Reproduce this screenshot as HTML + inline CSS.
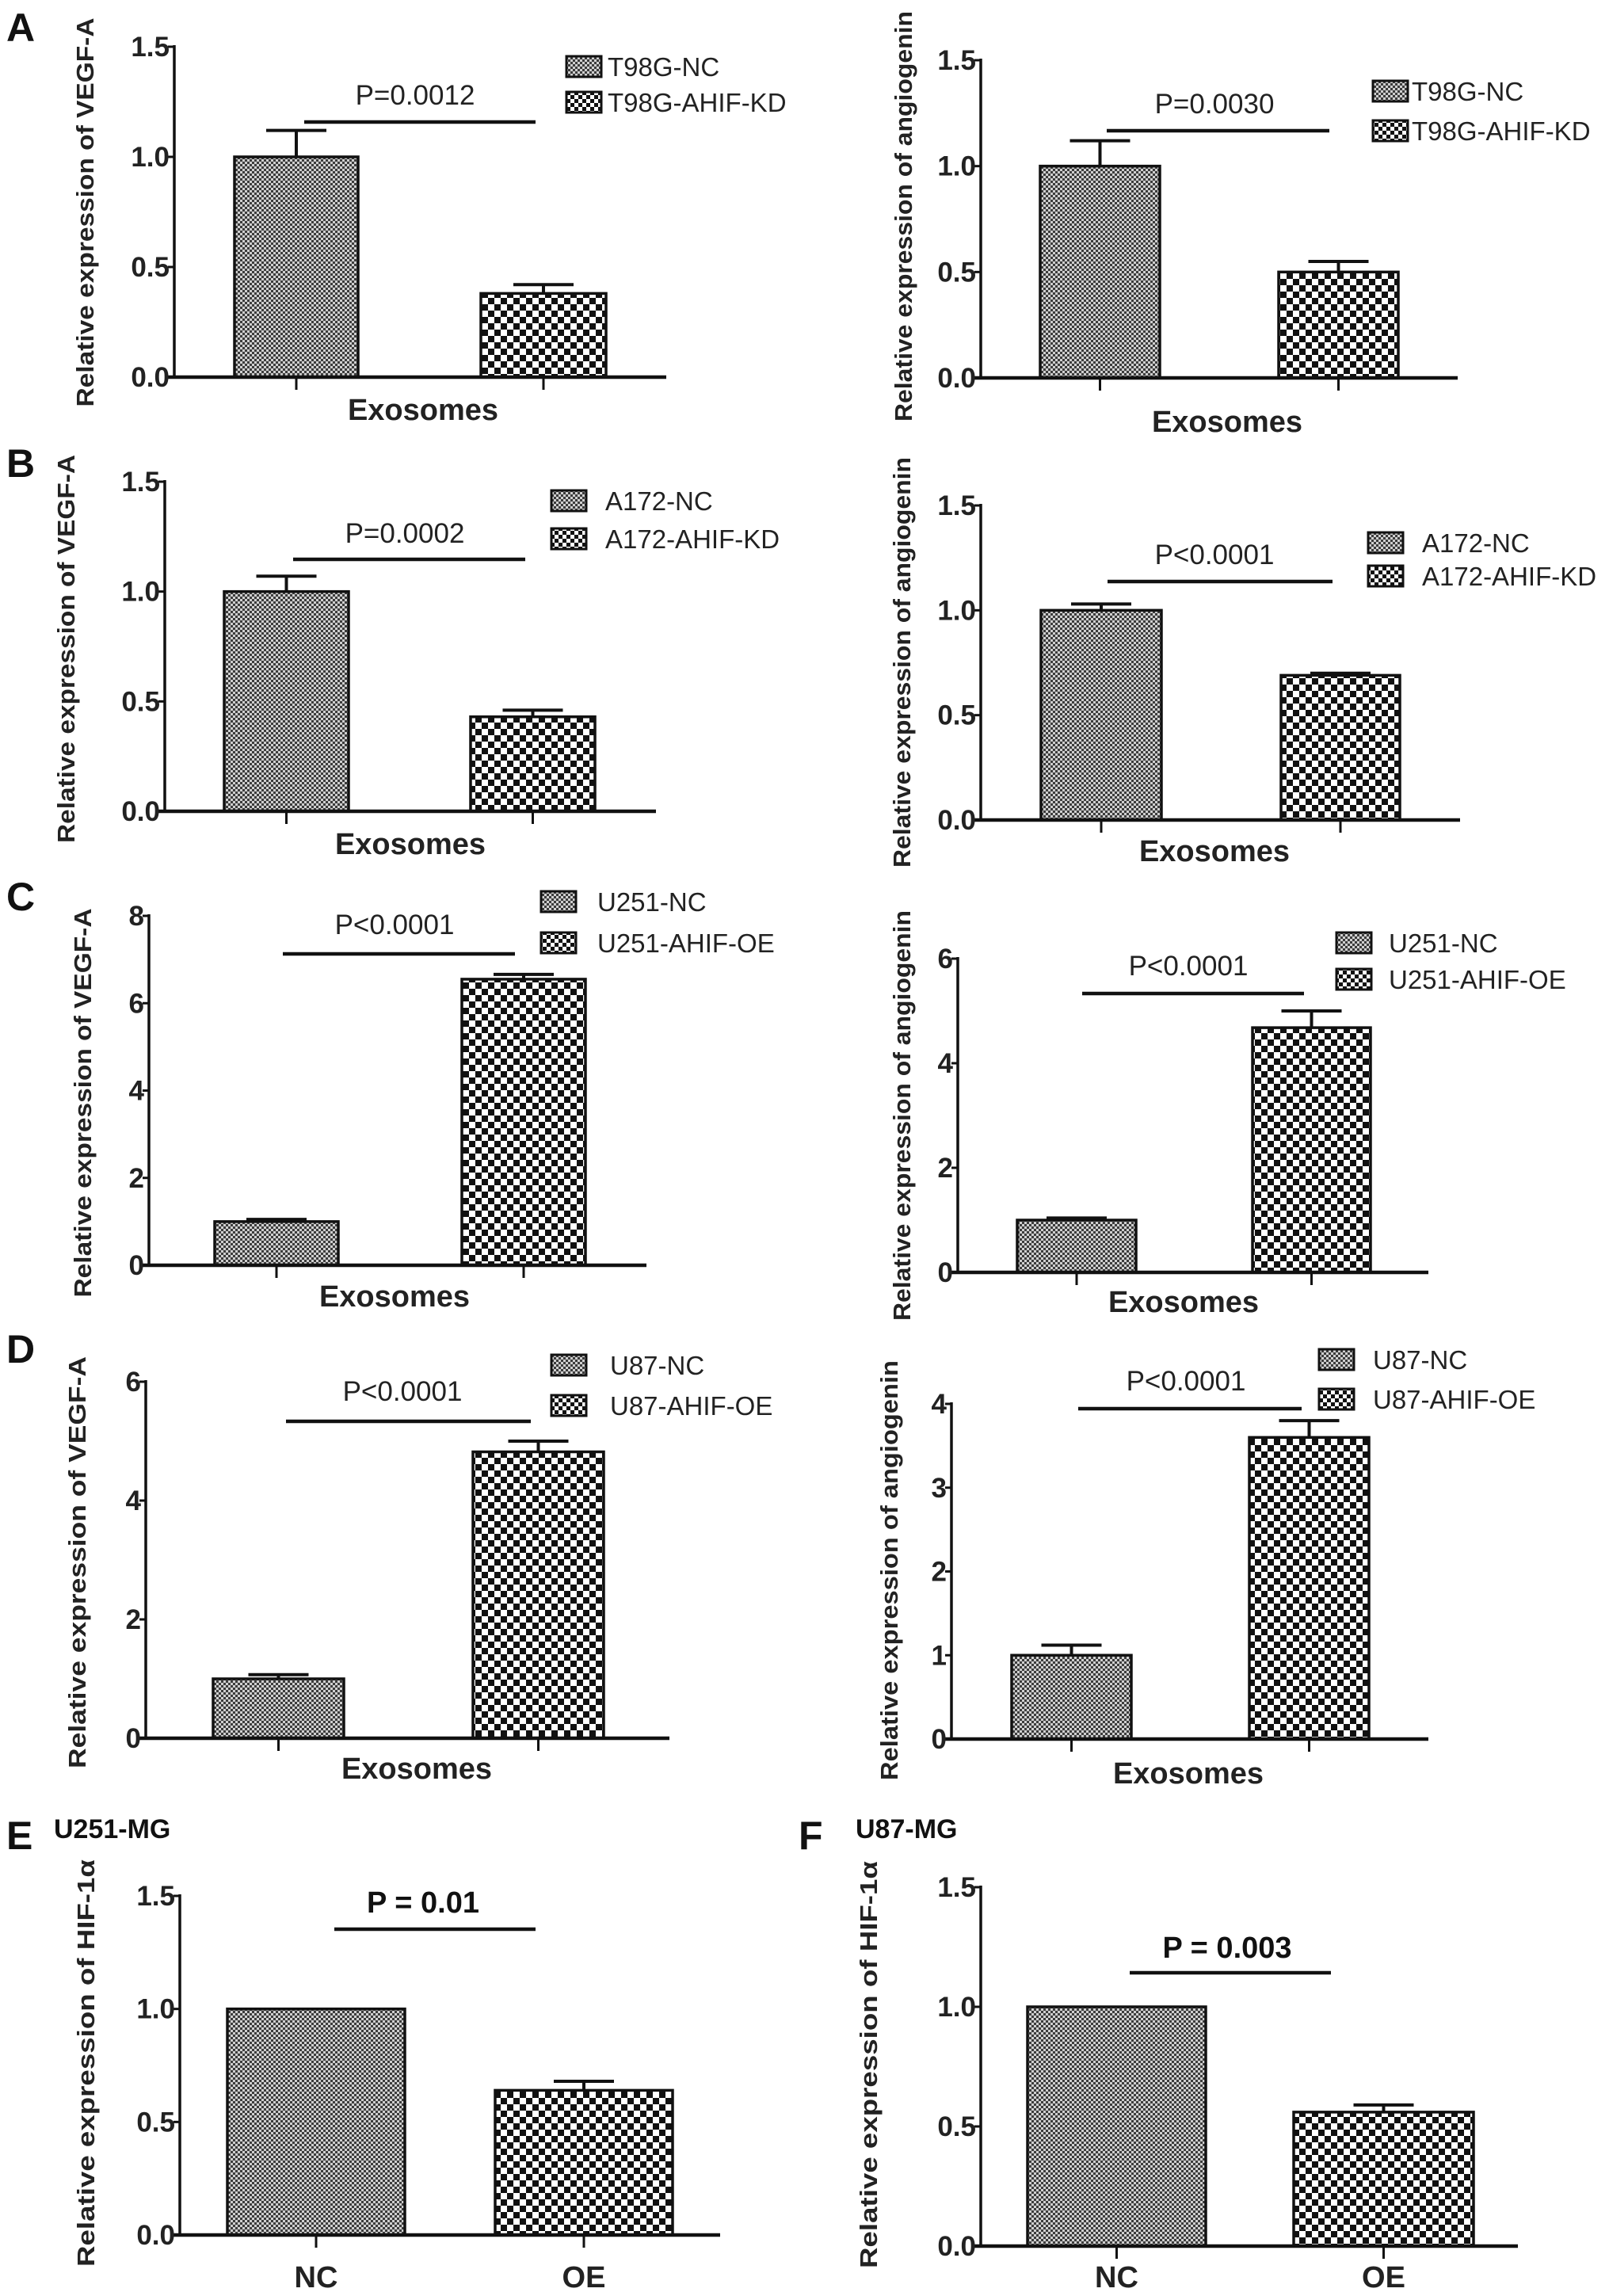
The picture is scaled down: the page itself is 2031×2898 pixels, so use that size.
<!DOCTYPE html>
<html><head><meta charset="utf-8"><title>Exosome expression bar charts</title>
<style>
html,body{margin:0;padding:0;background:#fff;}
svg{display:block;}
.tick{font-family:"Liberation Sans Narrow","Liberation Sans",sans-serif;font-weight:bold;font-size:35px;fill:#222;}
.leg{font-family:"Liberation Sans Narrow","Liberation Sans",sans-serif;font-size:33px;fill:#222;}
.pval{font-family:"Liberation Sans Narrow","Liberation Sans",sans-serif;font-size:35px;fill:#222;}
.pbold{font-family:"Liberation Sans Narrow","Liberation Sans",sans-serif;font-weight:bold;font-size:38px;fill:#111;}
.xl{font-family:"Liberation Sans Narrow","Liberation Sans",sans-serif;font-weight:bold;font-size:38px;fill:#222;}
.yt{font-family:"Liberation Sans",sans-serif;font-weight:bold;font-size:31px;fill:#222;}
.letter{font-family:"Liberation Sans",sans-serif;font-weight:bold;font-size:50px;fill:#111;}
.sub{font-family:"Liberation Sans Narrow","Liberation Sans",sans-serif;font-weight:bold;font-size:34px;fill:#111;}
</style></head>
<body>
<svg id="fig" xmlns="http://www.w3.org/2000/svg" width="2031" height="2898" viewBox="0 0 2031 2898">
<defs>
<pattern id="fine" patternUnits="userSpaceOnUse" width="6" height="6">
<rect width="6" height="6" fill="#cfcfcf"/><rect width="3" height="3" fill="#3c3c3c"/><rect x="3" y="3" width="3" height="3" fill="#3c3c3c"/>
</pattern>
<pattern id="coarse" patternUnits="userSpaceOnUse" width="16" height="16">
<rect width="16" height="16" fill="#fff"/><rect width="8" height="8" fill="#111"/><rect x="8" y="8" width="8" height="8" fill="#111"/>
</pattern>
<pattern id="coarseS" patternUnits="userSpaceOnUse" width="10" height="10">
<rect width="10" height="10" fill="#fff"/><rect width="5" height="5" fill="#111"/><rect x="5" y="5" width="5" height="5" fill="#111"/>
</pattern>
</defs>
<text class="letter" x="8" y="52">A</text>
<text class="letter" x="8" y="602">B</text>
<text class="letter" x="8" y="1149">C</text>
<text class="letter" x="8" y="1720">D</text>
<text class="letter" x="8" y="2334">E</text>
<text class="sub" x="68" y="2320">U251-MG</text>
<text class="letter" x="1008" y="2334">F</text>
<text class="sub" x="1080" y="2320">U87-MG</text>
</svg>
<script>
// ---- data ----
const aLeftCategories = ['T98G-NC', 'T98G-AHIF-KD'];
const aLeftValues = [1.0, 0.38];
const aLeftErrTops = [1.12, 0.42];
const aLeftTicks = [0, 0.5, 1.0, 1.5];
const aLeftTickLabels = ['0.0', '0.5', '1.0', '1.5'];

const aRightCategories = ['T98G-NC', 'T98G-AHIF-KD'];
const aRightValues = [1.0, 0.50];
const aRightErrTops = [1.12, 0.55];
const aRightTicks = [0, 0.5, 1.0, 1.5];
const aRightTickLabels = ['0.0', '0.5', '1.0', '1.5'];

const bLeftCategories = ['A172-NC', 'A172-AHIF-KD'];
const bLeftValues = [1.0, 0.43];
const bLeftErrTops = [1.07, 0.46];
const bLeftTicks = [0, 0.5, 1.0, 1.5];
const bLeftTickLabels = ['0.0', '0.5', '1.0', '1.5'];

const bRightCategories = ['A172-NC', 'A172-AHIF-KD'];
const bRightValues = [1.0, 0.69];
const bRightErrTops = [1.03, 0.70];
const bRightTicks = [0, 0.5, 1.0, 1.5];
const bRightTickLabels = ['0.0', '0.5', '1.0', '1.5'];

const cLeftCategories = ['U251-NC', 'U251-AHIF-OE'];
const cLeftValues = [1.0, 6.55];
const cLeftErrTops = [1.05, 6.66];
const cLeftTicks = [0, 2, 4, 6, 8];
const cLeftTickLabels = ['0', '2', '4', '6', '8'];

const cRightCategories = ['U251-NC', 'U251-AHIF-OE'];
const cRightValues = [1.0, 4.68];
const cRightErrTops = [1.04, 5.0];
const cRightTicks = [0, 2, 4, 6];
const cRightTickLabels = ['0', '2', '4', '6'];

const dLeftCategories = ['U87-NC', 'U87-AHIF-OE'];
const dLeftValues = [1.0, 4.82];
const dLeftErrTops = [1.07, 5.0];
const dLeftTicks = [0, 2, 4, 6];
const dLeftTickLabels = ['0', '2', '4', '6'];

const dRightCategories = ['U87-NC', 'U87-AHIF-OE'];
const dRightValues = [1.0, 3.6];
const dRightErrTops = [1.12, 3.8];
const dRightTicks = [0, 1, 2, 3, 4];
const dRightTickLabels = ['0', '1', '2', '3', '4'];

const eCategories = ['NC', 'OE'];
const eValues = [1.0, 0.64];
const eErrTops = [1.0, 0.68];
const eTicks = [0, 0.5, 1.0, 1.5];
const eTickLabels = ['0.0', '0.5', '1.0', '1.5'];

const fCategories = ['NC', 'OE'];
const fValues = [1.0, 0.56];
const fErrTops = [1.0, 0.59];
const fTicks = [0, 0.5, 1.0, 1.5];
const fTickLabels = ['0.0', '0.5', '1.0', '1.5'];

const pLabels = ['P=0.0012', 'P=0.0030', 'P=0.0002', 'P<0.0001', 'P<0.0001', 'P<0.0001', 'P<0.0001', 'P<0.0001', 'P = 0.01', 'P = 0.003'];

// ---- layout ----
const VEGF = 'Relative expression of VEGF-A';
const ANG = 'Relative expression of angiogenin';
const HIF = 'Relative expression of  HIF-1\u03b1';
const panels = [
 {id:'a-left', cats:aLeftCategories, vals:aLeftValues, errs:aLeftErrTops, ticks:aLeftTicks, tl:aLeftTickLabels, p:pLabels[0],
  ax:220, yTop:59, yZero:476, bars:[[296,452],[607,765]], xEnd:841, sig:[154,384,676], pt:[524,132], leg:[715,71,116,767], xl:[534,530], yt:[107,268,491,VEGF]},
 {id:'a-right', cats:aRightCategories, vals:aRightValues, errs:aRightErrTops, ticks:aRightTicks, tl:aRightTickLabels, p:pLabels[1],
  ax:1238, yTop:76, yZero:477, bars:[[1313,1464],[1614,1765]], xEnd:1840, sig:[165,1397,1678], pt:[1533,143], leg:[1733,102,152,1782], xl:[1549,545], yt:[1140,273,518,ANG]},
 {id:'b-left', cats:bLeftCategories, vals:bLeftValues, errs:bLeftErrTops, ticks:bLeftTicks, tl:bLeftTickLabels, p:pLabels[2],
  ax:208, yTop:608, yZero:1024, bars:[[283,440],[594,751]], xEnd:828, sig:[706,370,663], pt:[511,685], leg:[696,619,667,764], xl:[518,1078], yt:[83,819,490,VEGF]},
 {id:'b-right', cats:bRightCategories, vals:bRightValues, errs:bRightErrTops, ticks:bRightTicks, tl:bRightTickLabels, p:pLabels[3],
  ax:1238, yTop:638, yZero:1035, bars:[[1314,1466],[1617,1767]], xEnd:1843, sig:[734,1398,1682], pt:[1533,712], leg:[1727,672,714,1795], xl:[1533,1087], yt:[1138,836,518,ANG]},
 {id:'c-left', cats:cLeftCategories, vals:cLeftValues, errs:cLeftErrTops, ticks:cLeftTicks, tl:cLeftTickLabels, p:pLabels[4],
  ax:188, yTop:1156, yZero:1597, bars:[[271,427],[583,739]], xEnd:816, sig:[1204,357,650], pt:[498,1179], leg:[683,1125,1177,754], xl:[498,1649], yt:[104,1392,491,VEGF]},
 {id:'c-right', cats:cRightCategories, vals:cRightValues, errs:cRightErrTops, ticks:cRightTicks, tl:cRightTickLabels, p:pLabels[5],
  ax:1209, yTop:1210, yZero:1606, bars:[[1284,1434],[1581,1730]], xEnd:1803, sig:[1254,1366,1646], pt:[1500,1231], leg:[1687,1177,1223,1753], xl:[1494,1656], yt:[1138,1408,518,ANG]},
 {id:'d-left', cats:dLeftCategories, vals:dLeftValues, errs:dLeftErrTops, ticks:dLeftTicks, tl:dLeftTickLabels, p:pLabels[6],
  ax:184, yTop:1744, yZero:2194, bars:[[269,434],[597,762]], xEnd:845, sig:[1794,361,670], pt:[508,1768], leg:[696,1710,1761,770], xl:[526,2245], yt:[97,1972,520,VEGF]},
 {id:'d-right', cats:dRightCategories, vals:dRightValues, errs:dRightErrTops, ticks:dRightTicks, tl:dRightTickLabels, p:pLabels[7],
  ax:1201, yTop:1772, yZero:2195, bars:[[1277,1428],[1577,1728]], xEnd:1803, sig:[1778,1361,1643], pt:[1497,1755], leg:[1665,1703,1753,1733], xl:[1500,2251], yt:[1122,1982,530,ANG]},
 {id:'e', cats:eCategories, vals:eValues, errs:eErrTops, ticks:eTicks, tl:eTickLabels, p:pLabels[8], bold:true,
  ax:227, yTop:2393, yZero:2821, bars:[[287,511],[625,849]], xEnd:909, sig:[2435,422,676], pt:[534,2414], leg:null, xl:[0,2887], yt:[108,2604,514,HIF]},
 {id:'f', cats:fCategories, vals:fValues, errs:fErrTops, ticks:fTicks, tl:fTickLabels, p:pLabels[9], bold:true,
  ax:1238, yTop:2382, yZero:2835, bars:[[1297,1522],[1633,1860]], xEnd:1916, sig:[2490,1426,1680], pt:[1549,2471], leg:null, xl:[0,2887], yt:[1096,2606,514,HIF]}
];

const NS = 'http://www.w3.org/2000/svg';
const svg = document.getElementById('fig');
function mk(tag, attrs, parent) {
  const el = document.createElementNS(NS, tag);
  for (const k in attrs) el.setAttribute(k, attrs[k]);
  (parent || svg).appendChild(el);
  return el;
}

panels.forEach(function (P) {
  const g = mk('g', {});
  
  
  const yMax = P.ticks[P.ticks.length - 1];
  const yScale = function (v) { return P.yZero - v / yMax * (P.yZero - P.yTop); };
  const fills = ['url(#fine)', 'url(#coarse)'];

  P.vals.forEach(function (v, i) {
    const x0 = P.bars[i][0], x1 = P.bars[i][1];
    const bar = mk('rect', {x: x0, y: yScale(v), width: x1 - x0, height: P.yZero - yScale(v), fill: fills[i], stroke: '#111', 'stroke-width': 3.5}, g);
    
    
    const cx = (x0 + x1) / 2;
    const et = yScale(P.errs[i]);
    if (P.errs[i] > v) {
      const eb = mk('path', {d: 'M' + cx + ' ' + yScale(v) + 'V' + et + 'M' + (cx - 38) + ' ' + et + 'H' + (cx + 38), stroke: '#111', 'stroke-width': 4, fill: 'none'}, g);
      
      
    }
    const xt = mk('line', {x1: cx, x2: cx, y1: P.yZero, y2: P.yZero + 16, stroke: '#111', 'stroke-width': 3}, g);
    
    
    if (!P.leg) {
      const cl = mk('text', {x: cx, y: P.xl[1], 'text-anchor': 'middle', class: 'xl'}, g);
      cl.textContent = P.cats[i];
      
      
    }
  });

  const yAxis = mk('line', {x1: P.ax, x2: P.ax, y1: P.yTop - 2, y2: P.yZero, stroke: '#111', 'stroke-width': 3.5}, g);
  
  
  const xAxis = mk('line', {x1: P.ax - 8, x2: P.xEnd, y1: P.yZero, y2: P.yZero, stroke: '#111', 'stroke-width': 4.5}, g);
  
  
  P.ticks.forEach(function (t, i) {
    const y = yScale(t);
    const tk = mk('line', {x1: P.ax - 8, x2: P.ax, y1: y, y2: y, stroke: '#111', 'stroke-width': 3}, g);
    
    
    const lb = mk('text', {x: P.ax - 6, y: y + 12, 'text-anchor': 'end', class: 'tick'}, g);
    lb.textContent = P.tl[i];
    
    
  });

  const sl = mk('line', {x1: P.sig[1], x2: P.sig[2], y1: P.sig[0], y2: P.sig[0], stroke: '#111', 'stroke-width': 4.5}, g);
  
  
  const pt = mk('text', {x: P.pt[0], y: P.pt[1], 'text-anchor': 'middle', class: P.bold ? 'pbold' : 'pval'}, g);
  pt.textContent = P.p;
  
  

  if (P.leg) {
    const lfills = ['url(#fine)', 'url(#coarseS)'];
    [P.leg[1], P.leg[2]].forEach(function (ly, i) {
      const sw = mk('rect', {x: P.leg[0], y: ly, width: 44, height: 26, fill: lfills[i], stroke: '#111', 'stroke-width': 3}, g);
      
      
      const lt = mk('text', {x: P.leg[3], y: ly + 25, class: 'leg'}, g);
      lt.textContent = P.cats[i];
      
      
    });
    const xl = mk('text', {x: P.xl[0], y: P.xl[1], 'text-anchor': 'middle', class: 'xl'}, g);
    xl.textContent = 'Exosomes';
    
    
  }

  const yt = mk('text', {x: 0, y: 0, 'text-anchor': 'middle', class: 'yt', textLength: P.yt[2], lengthAdjust: 'spacingAndGlyphs',
    transform: 'translate(' + (P.yt[0] + 11) + ',' + P.yt[1] + ') rotate(-90)'}, g);
  yt.textContent = P.yt[3];
  
  
});
</script>
</body></html>
